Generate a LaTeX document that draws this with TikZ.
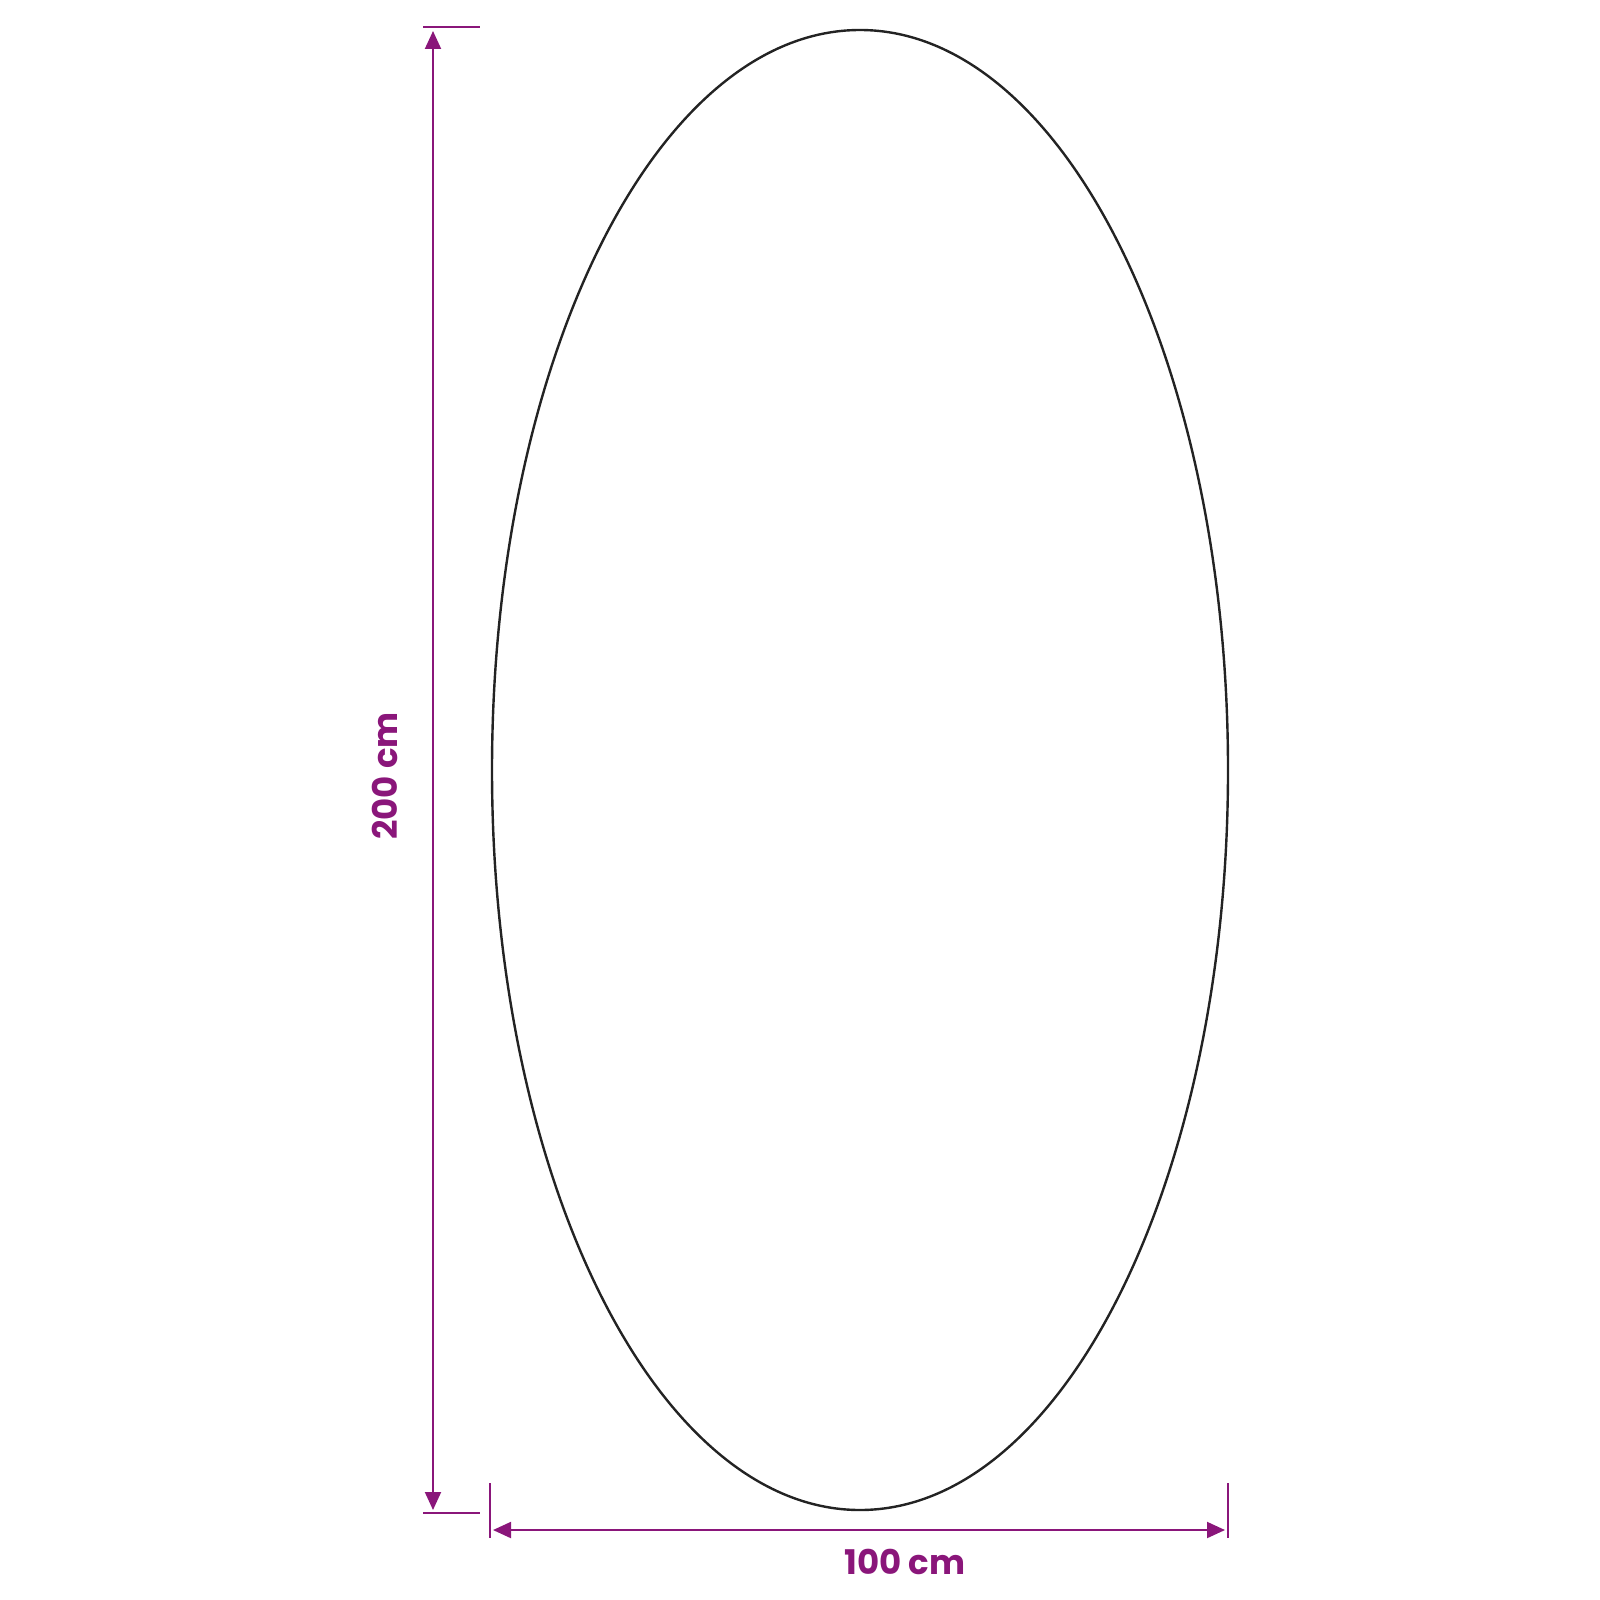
\documentclass[tikz,border=0pt]{standalone}
\usepackage{fontspec}
\setmainfont{Poppins}
\usetikzlibrary{arrows.meta}
\definecolor{dimpurple}{RGB}{138,22,122}
\begin{document}
\begin{tikzpicture}[x=0.5pt,y=-0.5pt,
  dimline/.style={draw=dimpurple,line width=1pt,{Triangle[length=9pt,width=8pt]}-{Triangle[length=9pt,width=8pt]}},
  tickline/.style={draw=dimpurple,line width=0.7pt},
  dimlabel/.style={text=dimpurple,font=\bfseries\fontsize{17}{20}\selectfont,inner sep=0pt}]
\useasboundingbox (0,0) rectangle (1600,1600);

%Ellipse
\draw [line width=1.2pt,color={rgb,255:red,35;green,35;blue,35}] (860,770) ellipse [x radius=368,y radius=740];

%Tick marks
\coordinate (tl1) at (423,27);
\coordinate (tl2) at (480,27);
\coordinate (bl1) at (423,1513);
\coordinate (bl2) at (480,1513);
\coordinate (lt1) at (490,1483);
\coordinate (lt2) at (490,1538);
\coordinate (rt1) at (1228,1483);
\coordinate (rt2) at (1228,1538);
\draw [tickline] (tl1) -- (tl2);
\draw [tickline] (bl1) -- (bl2);
\draw [tickline] (lt1) -- (lt2);
\draw [tickline] (rt1) -- (rt2);

%Dimension arrows
\coordinate (vtop) at (433,31);
\coordinate (vbot) at (433,1510);
\coordinate (hleft) at (493,1530);
\coordinate (hright) at (1225,1530);
\draw [dimline] (vtop) -- (vbot);
\draw [dimline] (hleft) -- (hright);

%Labels
\node [dimlabel,rotate=90] (height) at (385,776) {200 cm};
\node [dimlabel] (width) at (905,1562) {100 cm};

\end{tikzpicture}
\end{document}
